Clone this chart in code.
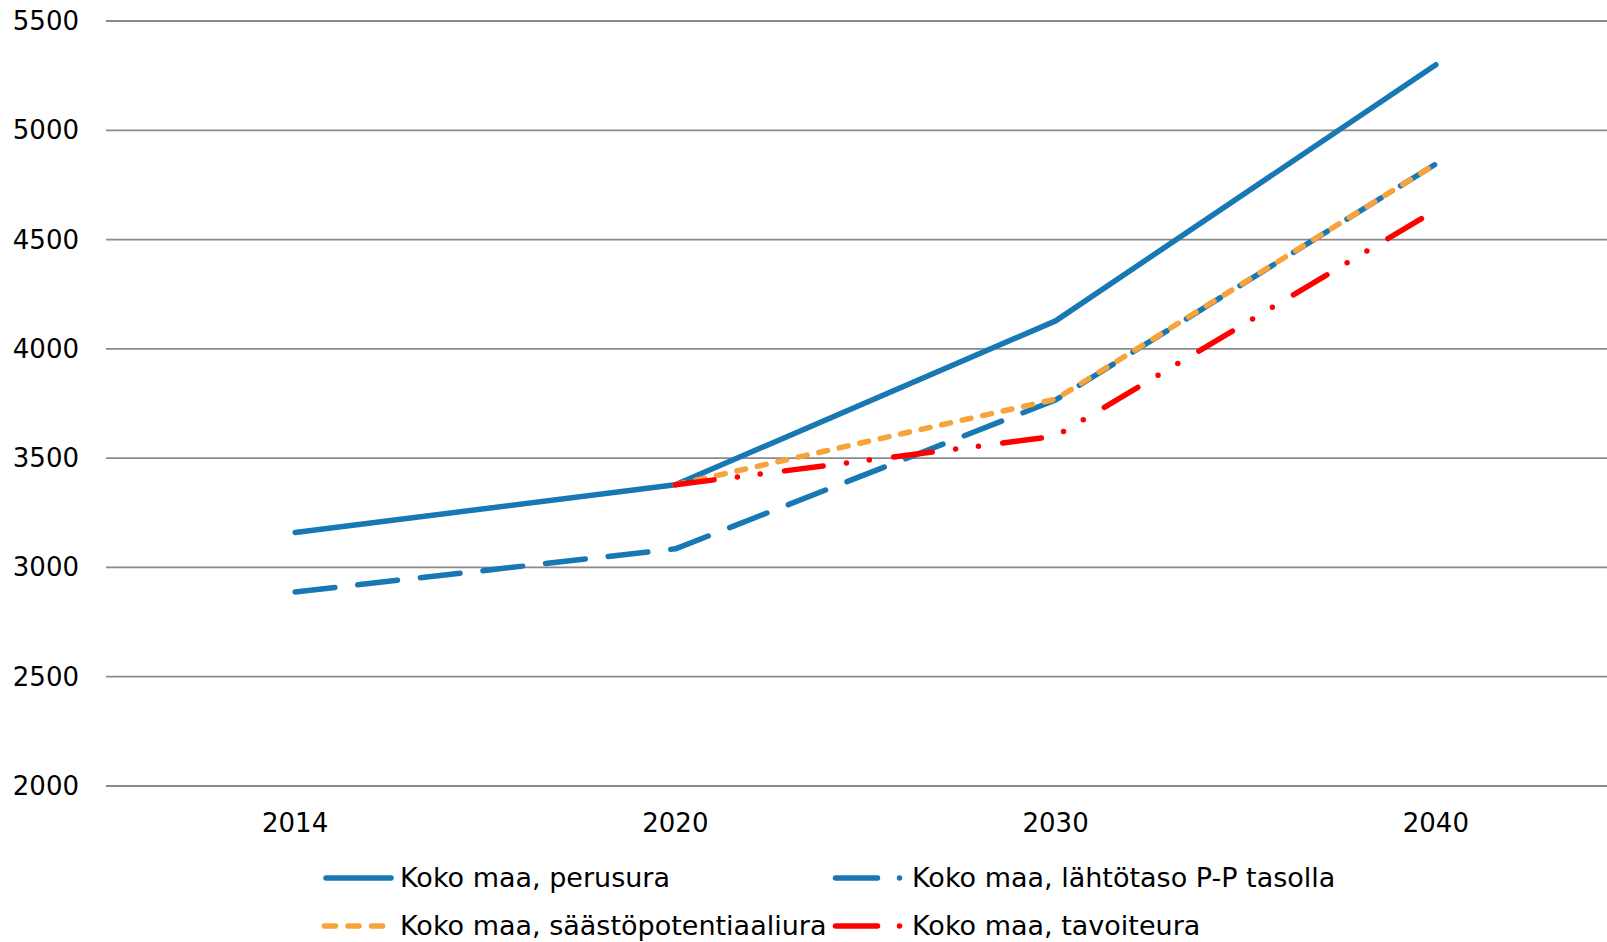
<!DOCTYPE html>
<html>
<head>
<meta charset="utf-8">
<script src="https://cdn.jsdelivr.net/npm/d3@7"></script>
<style>
  body { margin: 0; background: #fff; }
  text { font-family: "DejaVu Sans", Verdana, sans-serif; fill: #000; }
</style>
</head>
<body>
<svg id="chart"></svg>
<script>
const years = ["2014", "2020", "2030", "2040"];
const yTicks = [2000, 2500, 3000, 3500, 4000, 4500, 5000, 5500];

const perusura = [3160, 3378, 4128, 5300];
const lahtotaso = [2888, 3085, 3766, 4846];
const saastopotentiaali = [null, 3378, 3770, 4846];
const tavoiteura = [null, 3378, 3600, 4635];

const seriesNames = [
  "Koko maa, perusura",
  "Koko maa, lähtötaso P-P tasolla",
  "Koko maa, säästöpotentiaaliura",
  "Koko maa, tavoiteura"
];

const size = { width: 1607, height: 942 };
const margin = { top: 21, left: 105, bottom: 156 };

const series = [
  { name: seriesNames[0], values: perusura, color: "#1878b4", dash: null },
  { name: seriesNames[1], values: lahtotaso, color: "#1878b4", dash: "40,23" },
  { name: seriesNames[2], values: saastopotentiaali, color: "#f8a23a", dash: "9,12" },
  { name: seriesNames[3], values: tavoiteura, color: "#ff0000", dash: "39,23.5,0,23,0,24.5" }
];

const svg = d3
  .select("#chart")
  .attr("width", size.width)
  .attr("height", size.height);

const x = d3
  .scaleBand()
  .domain(years)
  .range([margin.left, margin.left + 4 * 380.25]);

const y = d3
  .scaleLinear()
  .domain([2000, 5500])
  .range([size.height - margin.bottom, margin.top]);

// gridlines
svg
  .append("g")
  .selectAll("line")
  .data(yTicks)
  .join("line")
  .attr("x1", 106)
  .attr("x2", size.width)
  .attr("y1", (d) => y(d))
  .attr("y2", (d) => y(d))
  .attr("stroke", "#8a8a8a")
  .attr("stroke-width", 1.8);

// y labels
svg
  .append("g")
  .selectAll("text")
  .data(yTicks)
  .join("text")
  .attr("x", 79)
  .attr("y", (d) => y(d) + 9)
  .attr("text-anchor", "end")
  .style("font-size", "26px")
  .text((d) => d);

// x labels
svg
  .append("g")
  .selectAll("text")
  .data(years)
  .join("text")
  .attr("x", (d) => x(d) + x.bandwidth() / 2)
  .attr("y", 832)
  .attr("text-anchor", "middle")
  .style("font-size", "26px")
  .text((d) => d);

const line = d3
  .line()
  .defined((d) => d.v != null)
  .x((d) => x(d.year) + x.bandwidth() / 2)
  .y((d) => y(d.v));

series.forEach((s) => {
  svg
    .append("path")
    .datum(years.map((yr, i) => ({ year: yr, v: s.values[i] })))
    .attr("d", line)
    .attr("fill", "none")
    .attr("stroke", s.color)
    .attr("stroke-width", 5.5)
    .attr("stroke-linecap", "round")
    .attr("stroke-linejoin", "round")
    .attr("stroke-dasharray", s.dash);
});

// legend
const legendPos = [
  { x: 326, y: 878, len: 65, tx: 400 },
  { x: 835.5, y: 878, len: 70, tx: 912 },
  { x: 324.5, y: 926, len: 58, tx: 400 },
  { x: 835.5, y: 926, len: 70, tx: 912 }
];
const legendDash = [null, "42,22,0,100", "11,12.5", "42,22,0,100"];

series.forEach((s, i) => {
  const p = legendPos[i];
  const g = svg.append("g");
  g.append("line")
    .attr("x1", p.x)
    .attr("x2", p.x + p.len)
    .attr("y1", p.y)
    .attr("y2", p.y)
    .attr("stroke", s.color)
    .attr("stroke-width", 5.5)
    .attr("stroke-linecap", "round")
    .attr("stroke-dasharray", legendDash[i]);
  g.append("text")
    .attr("x", p.tx)
    .attr("y", p.y + 9)
    .style("font-size", "27px")
    .text(s.name);
});
</script>
</body>
</html>
